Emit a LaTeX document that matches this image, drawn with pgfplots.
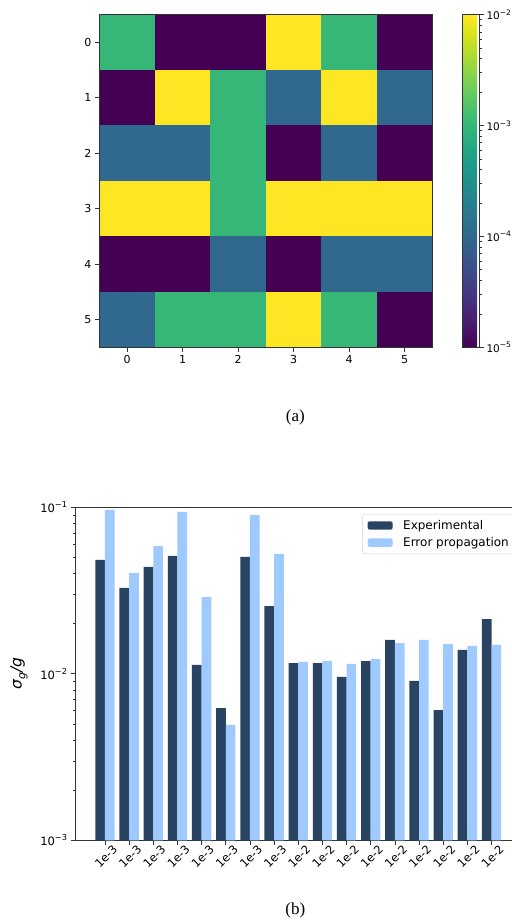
\documentclass[border=0pt]{standalone}
\usepackage{fontspec}
\setmainfont{DejaVu Sans}
\newfontfamily\capfont{Liberation Serif}
\usepackage{pgfplots}
\usepackage{pgfplotstable}
\pgfplotsset{compat=1.18}

\definecolor{expc}{HTML}{294363}
\definecolor{errc}{HTML}{9ECAFF}
\definecolor{spine}{HTML}{333333}

\newcommand{\tp}[1]{10\raisebox{0.42em}{\scalebox{0.72}{−#1}}}

\pgfplotstableread{
x y e
0 0 -3
1 0 -5
2 0 -5
3 0 -2
4 0 -3
5 0 -5
0 1 -5
1 1 -2
2 1 -3
3 1 -4
4 1 -2
5 1 -4
0 2 -4
1 2 -4
2 2 -3
3 2 -5
4 2 -4
5 2 -5
0 3 -2
1 3 -2
2 3 -3
3 3 -2
4 3 -2
5 3 -2
0 4 -5
1 4 -5
2 4 -4
3 4 -5
4 4 -4
5 4 -4
0 5 -4
1 5 -3
2 5 -3
3 5 -2
4 5 -3
5 5 -5
}\heat

\pgfplotstableread{
i exp err
0 0.0483 0.0964
1 0.0328 0.0403
2 0.0438 0.0585
3 0.0510 0.0938
4 0.0113 0.0289
5 0.00623 0.00493
6 0.0503 0.0899
7 0.0255 0.0524
8 0.0116 0.0118
9 0.0116 0.0119
10 0.00957 0.01146
11 0.0119 0.01227
12 0.01597 0.0153
13 0.00908 0.0160
14 0.00606 0.01508
15 0.0139 0.0147
16 0.0213 0.0149
}\bars

\begin{document}
\begin{tikzpicture}[x=1pt,y=1pt]
% ---------------- (a) heat map ----------------
\begin{axis}[
  at={(99.3pt,572.7pt)}, anchor=south west,
  scale only axis, width=333pt, height=332.6pt,
  xmin=-0.5, xmax=5.5, ymin=-0.5, ymax=5.5, y dir=reverse,
  enlargelimits=false, axis on top,
  xtick={0,...,5}, ytick={0,...,5},
  tick pos=left, tick align=outside, major tick length=4.3pt,
  tick style={spine, line width=0.7pt},
  axis line style={spine, line width=0.8pt},
  tick label style={font=\fontsize{11}{13}\selectfont},
  /pgf/number format/assume math mode=true,
  colormap name=viridis,
  point meta min=-5, point meta max=-2,
  colorbar,
  colorbar style={
    at={(parent axis.north east)}, anchor=north west, xshift=22pt,
    width=16.7pt,
    ytick={-5,-4,-3,-2},
    yticklabels={\tp{5},\tp{4},\tp{3},\tp{2}},
    minor ytick={-4.69897,-4.52288,-4.39794,-4.30103,-4.22185,-4.15490,-4.09691,-4.04576,
                 -3.69897,-3.52288,-3.39794,-3.30103,-3.22185,-3.15490,-3.09691,-3.04576,
                 -2.69897,-2.52288,-2.39794,-2.30103,-2.22185,-2.15490,-2.09691,-2.04576},
    ytick pos=right, yticklabel pos=right,
    tick align=outside, major tick length=4.3pt, minor tick length=2.5pt,
    tick style={spine, line width=0.7pt},
    axis line style={spine, line width=0.8pt},
    tick label style={font=\fontsize{10.5}{12}\selectfont, inner xsep=2.5pt},
  },
]
\addplot[matrix plot*, mesh/cols=6, point meta=explicit] table[x=x, y=y, meta=e]{\heat};
\end{axis}
\node[font=\capfont\fontsize{17}{20}\selectfont] at (295.3,503) {(a)};

% ---------------- (b) bar chart ----------------
\begin{axis}[
  at={(75pt,79.7pt)}, anchor=south west,
  scale only axis, width=446.5pt, height=333pt,
  xmin=-1.24, xmax=17.24,
  ymode=log, ymin=1e-3, ymax=1e-1, log origin=infty,
  ytick={1e-3,1e-2,1e-1},
  yticklabels={\tp{3},\tp{2},\tp{1}},
  minor ytick={2e-3,3e-3,4e-3,5e-3,6e-3,7e-3,8e-3,9e-3,2e-2,3e-2,4e-2,5e-2,6e-2,7e-2,8e-2,9e-2},
  xtick={0,...,16},
  xticklabels={1e-3,1e-3,1e-3,1e-3,1e-3,1e-3,1e-3,1e-3,1e-2,1e-2,1e-2,1e-2,1e-2,1e-2,1e-2,1e-2,1e-2},
  x tick label style={rotate=45, anchor=north east, xshift=9pt, yshift=-1pt},
  tick pos=left, tick align=outside, major tick length=4.3pt, minor tick length=2.5pt,
  tick style={spine, line width=0.7pt},
  axis line style={spine, line width=0.8pt},
  tick label style={font=\fontsize{11.5}{13}\selectfont},
  /pgf/number format/assume math mode=true,
  ylabel={\itshape σ\raisebox{-0.25em}{\scalebox{0.7}{g}}/g},
  ylabel style={at={(axis description cs:-0.1254,0.5)}, anchor=center,
                font=\fontsize{15.5}{18}\selectfont},
  legend style={at={(1,1)}, anchor=north east, xshift=-6pt, yshift=-6.7pt,
    draw=black!18, rounded corners=2pt, fill=white,
    font=\fontsize{12}{14}\selectfont,
    row sep=3.5pt, inner xsep=5pt, inner ysep=4.5pt,
    nodes={inner sep=1.5pt},
    /tikz/every odd column/.style={column sep=9pt}},
  legend cell align=left,
  legend image code/.code={\fill[#1] (0pt,-4.15pt) rectangle (25pt,4.15pt);},
]
\addplot[ybar, bar width=0.4, bar shift=-0.2, fill=expc, draw=none] table[x=i, y=exp]{\bars};
\addplot[ybar, bar width=0.4, bar shift=0.2, fill=errc, draw=none] table[x=i, y=err]{\bars};
\legend{Experimental, Error propagation}
\end{axis}
\node[font=\capfont\fontsize{17}{20}\selectfont] at (295.3,10) {(b)};

\pgfresetboundingbox
\path[use as bounding box] (0,0) rectangle (511,920);
\end{tikzpicture}
\end{document}
